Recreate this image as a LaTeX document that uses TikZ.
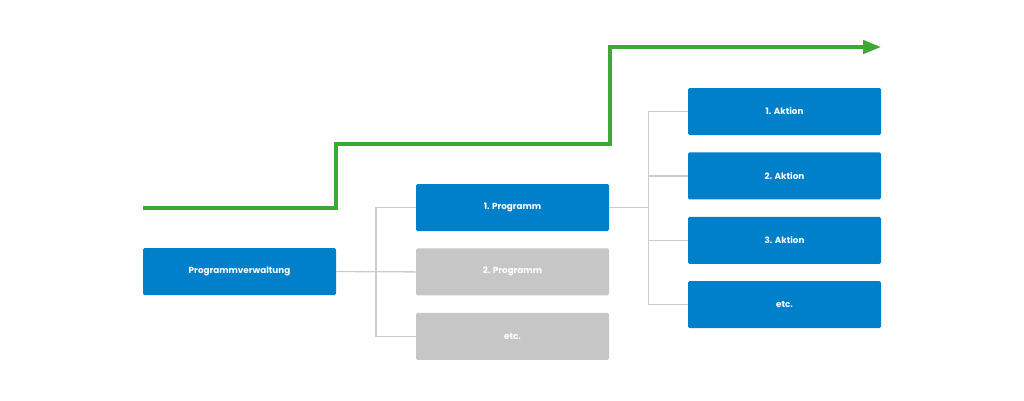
\documentclass[tikz,border=0pt]{standalone}
\usepackage{fontspec}
\setmainfont{Poppins}
\usetikzlibrary{positioning,calc,arrows.meta}
\definecolor{boxblue}{HTML}{0080C8}
\definecolor{boxgray}{HTML}{C6C6C6}
\definecolor{linegray}{HTML}{CCCCCC}
\definecolor{stepgreen}{HTML}{3DA935}
\def\boxgap{17pt}
\tikzstyle{conn} = [draw=linegray, line width=1.3pt]
\tikzstyle{pathline} = [draw=stepgreen, line width=4pt, -{Triangle[length=18pt,width=13pt]}]

\begin{document}
\begin{tikzpicture}[x=1pt, y=-1pt, node distance=\boxgap]
    \tikzstyle{box}=[rectangle, rounded corners=1.5pt, minimum width=193pt, minimum height=47pt, inner sep=0pt, text=white, font=\fontsize{8.8}{10}\selectfont\bfseries]
    \tikzstyle{active box}=[box, fill=boxblue]
    \tikzstyle{idle box}=[box, fill=boxgray]

    \useasboundingbox (0,0) rectangle (1024,400);

    % Draw the management node
    \node[active box] (PV) at (239.5,271.5) {Programmverwaltung};

    % Draw the program nodes
    \node[active box] (P-1) at (512.5,207.5) {1. Programm};
    \node[idle box, below=of P-1] (P-2) {2. Programm};
    \node[idle box, below=of P-2] (P-3) {etc.};

    % Draw the action nodes
    \node[active box] (A-1) at (784.5,111.5) {1. Aktion};
    \foreach \name / \prev in {2/1,3/2}
        \node[active box, below=of A-\prev] (A-\name) {\name. Aktion};
    \node[active box, below=of A-3] (A-4) {etc.};

    % Connect management to programs
    \coordinate (T-1) at ($(PV.east)!0.5!(P-2.west)$);
    \draw[conn] (PV.east) -- (P-2.west);
    \draw[conn] (P-1.west) -| (T-1) |- (P-3.west);

    % Connect first program to actions
    \coordinate (T-2) at ($(P-1.east)!0.5!(A-1.west)$);
    \draw[conn] (P-1.east) -- (T-2 |- P-1.east);
    \draw[conn] (A-1.west) -| (T-2) |- (A-4.west);
    \foreach \name in {2,3}
        \draw[conn] (T-2 |- A-\name.west) -- (A-\name.west);

    % Draw the green step arrow
    \coordinate (G-0) at (PV.west |- P-1.west);
    \coordinate (G-1) at (336,144);
    \coordinate (G-2) at (610,47);
    \coordinate (G-3) at (A-1.east |- G-2);
    \draw[pathline] (G-0) -| (G-1) -| (G-2) -- (G-3);
\end{tikzpicture}
\end{document}
